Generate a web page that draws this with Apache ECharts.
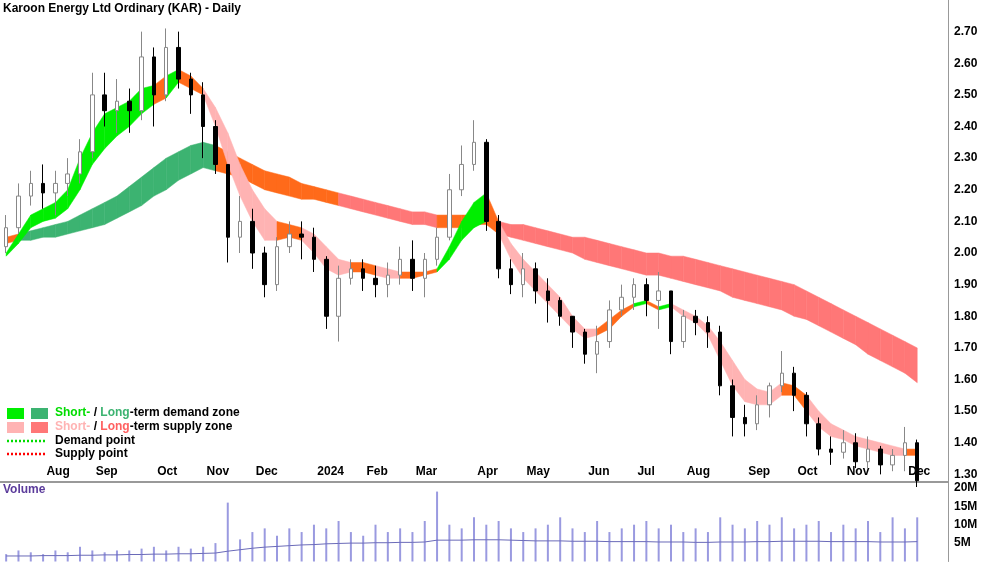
<!DOCTYPE html>
<html>
<head>
<meta charset="utf-8">
<script src="https://cdn.jsdelivr.net/npm/echarts@6/dist/echarts.min.js"></script>
<style>html,body{margin:0;padding:0;background:#fff}#main{width:1000px;height:562px}</style>
</head>
<body>
<div id="main"></div>
<script>
// weekly bars, Jul 2023 - Dec 2024 (2 empty slots kept at the right edge)
var startDate = new Date(2023, 6, 10);
var weeks = [];
for (var w = 0; w < 77; w++) {
    weeks.push(new Date(startDate.getTime() + w * 7 * 86400000));
}
var monthNames = ['Jan','Feb','Mar','Apr','May','Jun','Jul','Aug','Sep','Oct','Nov','Dec'];
var priceTicks = ['1.30','1.40','1.50','1.60','1.70','1.80','1.90','2.00','2.10','2.20','2.30','2.40','2.50','2.60','2.70'];
var volTicks = ['5M','10M','15M','20M'];

var open = [2.02,2.08,2.18,2.22,2.19, 2.22,2.25,2.32,2.50,2.45, 2.48,2.45,2.62,2.50,2.65, 2.55,2.50,2.40,2.28,2.05,
    2.10,2.00,1.90,2.02,2.06, 2.05,1.98,1.80,1.92,1.95, 1.92,1.90,1.93,1.98,1.92, 1.98,2.05,2.20,2.28,2.35,
    2.10,1.95,1.90,1.95,1.88, 1.85,1.80,1.75,1.68,1.72, 1.82,1.86,1.90,1.85,1.88, 1.72,1.80,1.78,1.75,1.58,
    1.48,1.46,1.52,1.58,1.62, 1.55,1.46,1.38,1.37,1.40, 1.34,1.38,1.33,1.36,1.40];
var close = [2.08,2.18,2.22,2.19,2.22, 2.25,2.32,2.50,2.45,2.48, 2.45,2.62,2.50,2.65,2.55, 2.50,2.40,2.28,2.05,2.10,
    2.00,1.90,2.02,2.06,2.05, 1.98,1.80,1.92,1.95,1.92, 1.90,1.93,1.98,1.92,1.98, 2.05,2.20,2.28,2.35,2.10,
    1.95,1.90,1.95,1.88,1.85, 1.80,1.75,1.68,1.72,1.82, 1.86,1.90,1.85,1.88,1.72, 1.80,1.78,1.75,1.58,1.48,
    1.46,1.52,1.58,1.62,1.55, 1.46,1.38,1.37,1.40,1.34, 1.38,1.33,1.36,1.40,1.28];
var high = [2.12,2.22,2.26,2.28,2.26, 2.30,2.36,2.57,2.57,2.55, 2.52,2.70,2.65,2.71,2.70, 2.57,2.54,2.42,2.22,2.18,
    2.14,2.02,2.05,2.10,2.10, 2.08,1.99,1.96,1.98,1.98, 1.96,1.97,2.02,2.04,2.00, 2.08,2.25,2.34,2.42,2.36,
    2.12,1.98,2.00,1.97,1.92, 1.86,1.78,1.76,1.77,1.85, 1.90,1.92,1.92,1.94,1.88, 1.82,1.82,1.80,1.77,1.60,
    1.52,1.55,1.59,1.69,1.64, 1.56,1.48,1.42,1.44,1.43, 1.42,1.39,1.38,1.45,1.41];
var low = [2.00,2.06,2.15,2.14,2.12, 2.18,2.22,2.30,2.40,2.38, 2.38,2.42,2.40,2.48,2.52, 2.44,2.30,2.25,1.97,2.00,
    1.95,1.86,1.88,2.00,1.98, 1.94,1.76,1.72,1.90,1.88, 1.86,1.86,1.90,1.88,1.86, 1.96,2.04,2.18,2.26,2.07,
    1.92,1.87,1.86,1.84,1.78, 1.77,1.70,1.65,1.62,1.70, 1.80,1.82,1.80,1.76,1.68, 1.70,1.74,1.70,1.55,1.42,
    1.42,1.44,1.48,1.56,1.50, 1.42,1.36,1.33,1.35,1.32, 1.32,1.30,1.31,1.31,1.26];

// short-term zone edges and state (D demand, S supply, N neutral)
var shortUp = [2.00,2.06,2.12,2.14,2.16, 2.20,2.30,2.38,2.44,2.46, 2.48,2.52,2.53,2.56,2.58, 2.56,2.52,2.46,2.38,2.28,
    2.20,2.14,2.10,2.09,2.08, 2.06,2.02,1.98,1.97,1.97, 1.96,1.95,1.94,1.94,1.94, 1.95,2.02,2.10,2.16,2.19,
    2.10,2.03,1.98,1.94,1.90, 1.86,1.80,1.76,1.76,1.79, 1.82,1.84,1.85,1.83,1.84, 1.82,1.80,1.77,1.72,1.66,
    1.60,1.57,1.56,1.59,1.58, 1.55,1.50,1.46,1.44,1.42, 1.41,1.40,1.39,1.38,1.38];
var shortLo = [1.99,2.03,2.08,2.10,2.11, 2.14,2.20,2.28,2.33,2.37, 2.40,2.44,2.47,2.49,2.54, 2.52,2.50,2.40,2.28,2.18,
    2.10,2.04,2.04,2.05,2.04, 2.00,1.95,1.93,1.94,1.94, 1.93,1.92,1.92,1.92,1.93, 1.94,1.98,2.04,2.08,2.10,
    2.06,1.98,1.92,1.88,1.84, 1.80,1.76,1.73,1.74,1.76, 1.80,1.83,1.84,1.82,1.83, 1.80,1.78,1.74,1.66,1.58,
    1.53,1.52,1.52,1.55,1.55, 1.50,1.45,1.42,1.41,1.39, 1.38,1.37,1.36,1.36,1.36];
var shortState = ['D','D','D','D','D', 'D','D','D','D','D', 'D','D','N','D','N', 'N','S','S','S','S',
    'S','S','N','N','S', 'S','S','S','N','N', 'S','S','N','N','N', 'D','D','D','D','N',
    'S','S','S','S','S', 'S','S','S','N','N', 'N','D','N','D','S', 'S','S','S','S','S',
    'S','S','S','N','N', 'S','S','S','S','S', 'S','S','S','N','N'];

// long-term zone
var longUp = [2.05,2.06,2.07,2.08,2.09, 2.10,2.12,2.14,2.16,2.18, 2.21,2.24,2.27,2.30,2.32, 2.34,2.35,2.34,2.32,2.30,
    2.28,2.26,2.25,2.24,2.22, 2.21,2.20,2.19,2.18,2.17, 2.16,2.15,2.14,2.13,2.13, 2.12,2.12,2.12,2.12,2.11,
    2.10,2.09,2.09,2.08,2.07, 2.06,2.05,2.05,2.04,2.03, 2.02,2.01,2.00,2.00,1.99, 1.99,1.98,1.97,1.96,1.95,
    1.94,1.93,1.92,1.91,1.90, 1.88,1.86,1.84,1.82,1.80, 1.78,1.76,1.74,1.72,1.70];
var longLo = [2.03,2.04,2.04,2.05,2.05, 2.06,2.07,2.08,2.09,2.11, 2.13,2.15,2.18,2.20,2.23, 2.25,2.27,2.26,2.25,2.24,
    2.22,2.20,2.19,2.18,2.17, 2.17,2.16,2.15,2.14,2.13, 2.12,2.11,2.10,2.09,2.09, 2.08,2.08,2.08,2.09,2.09,
    2.06,2.05,2.04,2.03,2.02, 2.01,2.00,1.98,1.97,1.96, 1.95,1.94,1.93,1.93,1.92, 1.91,1.90,1.89,1.88,1.86,
    1.85,1.84,1.83,1.82,1.80, 1.79,1.77,1.75,1.73,1.71, 1.68,1.66,1.64,1.62,1.59];
var longState = ['N','D','D','D','D', 'D','D','D','D','D', 'D','D','D','D','D', 'D','D','N','N','N',
    'N','N','N','N','N', 'N','N','S','S','S', 'S','S','S','S','S', 'N','N','N','N','N',
    'S','S','S','S','S', 'S','S','S','S','S', 'S','S','S','S','S', 'S','S','S','S','S',
    'S','S','S','S','S', 'S','S','S','S','S', 'S','S','S','S','S'];

var volume = [2,3,2.5,2,3, 2.5,4,3,2.5,3, 3,3.5,4,3,4, 3.5,4,5,16,6,
    8,9,7,9,8, 10,9,11,8,7, 10,8,9,8,11, 19,10,9,12,10,
    11,9,8,9,10, 12,9,8,11,8, 9,10,11,9,10, 8,9,8,12,10,
    9,11,10,12,9, 10,11,8,10,9, 11,8,12,9,12];
var volumeAvg = [1.5,1.5,1.5,1.6,1.6, 1.6,1.7,1.7,1.8,1.8, 1.9,1.9,2.0,2.0,2.1, 2.1,2.2,2.3,2.8,3.2,
    3.6,3.9,4.1,4.3,4.5, 4.6,4.8,4.9,5.0,5.0, 5.1,5.1,5.2,5.2,5.3, 5.8,5.8,5.8,5.9,5.9,
    5.9,5.8,5.7,5.6,5.6, 5.6,5.5,5.5,5.5,5.4, 5.4,5.4,5.4,5.3,5.3, 5.3,5.2,5.2,5.3,5.3,
    5.3,5.4,5.4,5.5,5.5, 5.5,5.5,5.4,5.4,5.4, 5.4,5.3,5.3,5.3,5.4];

var shortColors = {D: '#00ee00', S: '#ffb3b3', N: '#ff6a1a'};
var longColors = {D: '#3cb371', S: '#ff7777', N: '#ff6a1a'};

var cats = weeks.map(function (d) { return d.getFullYear() + '-' + (d.getMonth() + 1) + '-' + d.getDate(); });
function isMonthStart(i) {
    if (i === 0 || i >= open.length) return false;
    var a = new Date(weeks[i].getTime() + 4 * 86400000);
    var b = new Date(weeks[i - 1].getTime() + 4 * 86400000);
    return a.getMonth() !== b.getMonth();
}
function monthLabel(i) {
    var a = new Date(weeks[i].getTime() + 4 * 86400000);
    return a.getMonth() === 0 ? String(a.getFullYear()) : monthNames[a.getMonth()];
}

function bandSeries(up, lo, state, colors) {
    var idx = [];
    for (var i = 0; i < up.length - 1; i++) idx.push([i]);
    return {
        type: 'custom',
        xAxisIndex: 0, yAxisIndex: 0,
        silent: true,
        data: idx,
        encode: {x: 0},
        renderItem: function (params, api) {
            var i = api.value(0);
            var pts = [api.coord([i, up[i]]), api.coord([i + 1, up[i + 1]]),
                api.coord([i + 1, lo[i + 1]]), api.coord([i, lo[i]])];
            return {type: 'polygon', shape: {points: pts},
                style: {fill: colors[state[i]], stroke: colors[state[i]], lineWidth: 0.5}};
        }
    };
}

var candleData = open.map(function (o, i) { return [o, close[i], low[i], high[i]]; });

var chart = echarts.init(document.getElementById('main'));
var lbl = {fontFamily: 'Liberation Sans, Arial', fontWeight: 'bold', fontSize: 12, color: '#000'};
var bold = 'bold 12px Liberation Sans, Arial';

chart.setOption({
    animation: false,
    grid: [
        {left: 0, right: 52, top: -2, height: 508},
        {left: 0, right: 52, top: 482, height: 79.5},
        {left: 0, right: 52, top: 463, height: 19}
    ],
    xAxis: [
        {type: 'category', gridIndex: 0, data: cats, show: false},
        {type: 'category', gridIndex: 1, data: cats, show: false},
        {type: 'category', gridIndex: 2, data: cats, position: 'top',
            axisLine: {lineStyle: {color: '#999', width: 2}},
            axisTick: {inside: true, length: 4, lineStyle: {color: '#888'}, interval: function (i) { return isMonthStart(i); }},
            axisLabel: Object.assign({inside: true, margin: 3, align: 'left',
                interval: function (i) { return isMonthStart(i); },
                formatter: function (v, i) { return ' ' + monthLabel(i); }}, lbl)}
    ],
    yAxis: [
        {type: 'value', gridIndex: 0, position: 'right', min: 1.2, max: 2.8, interval: 0.1,
            splitLine: {show: false}, axisTick: {show: false},
            axisLine: {show: true, lineStyle: {color: '#999'}},
            axisLabel: Object.assign({margin: 6, formatter: function (v) {
                var s = v.toFixed(2);
                return priceTicks.indexOf(s) >= 0 ? s : '';
            }}, lbl)},
        {type: 'value', gridIndex: 1, position: 'right', min: 0, max: 21.6, interval: 5,
            splitLine: {show: false}, axisTick: {show: false},
            axisLine: {show: true, lineStyle: {color: '#999'}},
            axisLabel: Object.assign({margin: 6, formatter: function (v) {
                var s = v + 'M';
                return volTicks.indexOf(s) >= 0 ? s : '';
            }}, lbl)},
        {type: 'value', gridIndex: 2, show: false}
    ],
    graphic: [
        {type: 'text', left: 3, top: 3, style: {text: 'Karoon Energy Ltd Ordinary (KAR) - Daily', font: bold, fill: '#000'}},
        {type: 'text', left: 3, top: 484, style: {text: 'Volume', font: bold, fill: '#5b3b9b'}},
        {type: 'rect', shape: {x: 7, y: 408, width: 17, height: 11}, style: {fill: '#00ee00'}},
        {type: 'rect', shape: {x: 31, y: 408, width: 17, height: 11}, style: {fill: '#3cb371'}},
        {type: 'rect', shape: {x: 7, y: 422, width: 17, height: 11}, style: {fill: '#ffb3b3'}},
        {type: 'rect', shape: {x: 31, y: 422, width: 17, height: 11}, style: {fill: '#ff7777'}},
        {type: 'line', shape: {x1: 7, y1: 441, x2: 46, y2: 441}, style: {stroke: '#00dd00', lineWidth: 2.5, lineDash: [2, 2]}},
        {type: 'line', shape: {x1: 7, y1: 454, x2: 46, y2: 454}, style: {stroke: '#ff0000', lineWidth: 2.5, lineDash: [2, 2]}},
        {type: 'text', left: 55, top: 407, style: {rich: {
            g: {fill: '#00dd00', font: bold},
            d: {fill: '#3cb371', font: bold},
            k: {fill: '#000', font: bold}},
            text: '{g|Short-}{k| / }{d|Long}{k|-term demand zone}'}},
        {type: 'text', left: 55, top: 421, style: {rich: {
            p: {fill: '#ffb3b3', font: bold},
            r: {fill: '#ff6060', font: bold},
            k: {fill: '#000', font: bold}},
            text: '{p|Short-}{k| / }{r|Long}{k|-term supply zone}'}},
        {type: 'text', left: 55, top: 435, style: {text: 'Demand point', font: bold, fill: '#000'}},
        {type: 'text', left: 55, top: 448, style: {text: 'Supply point', font: bold, fill: '#000'}},
        {type: 'line', shape: {x1: 0, y1: 482, x2: 948, y2: 482}, style: {stroke: '#999', lineWidth: 1}}
    ],
    series: [
        bandSeries(longUp, longLo, longState, longColors),
        bandSeries(shortUp, shortLo, shortState, shortColors),
        {type: 'candlestick', xAxisIndex: 0, yAxisIndex: 0, data: candleData, barWidth: 4,
            itemStyle: {color: '#ffffff', color0: '#000000', borderColor: '#888888', borderColor0: '#000000', borderWidth: 1}},
        {type: 'bar', xAxisIndex: 1, yAxisIndex: 1, data: volume, barWidth: 2,
            itemStyle: {color: '#9a9ae0'}},
        {type: 'line', xAxisIndex: 1, yAxisIndex: 1, data: volumeAvg, symbol: 'none',
            lineStyle: {color: '#6a6ab8', width: 1}}
    ]
});
</script>
</body>
</html>
